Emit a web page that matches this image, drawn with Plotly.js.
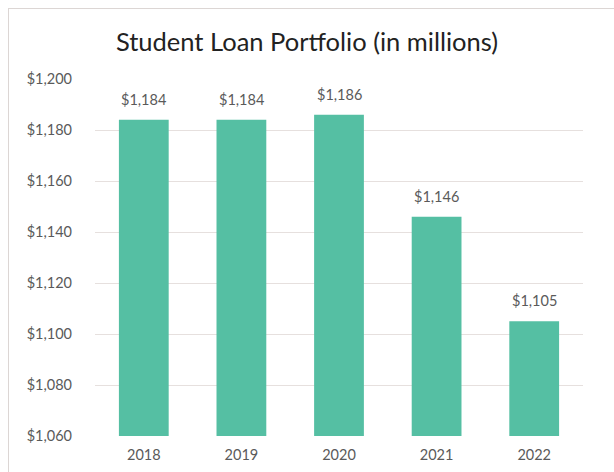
<!DOCTYPE html>
<html>
<head>
<meta charset="utf-8">
<script src="https://cdn.plot.ly/plotly-3.0.1.min.js"></script>
<style>
  html, body { margin: 0; padding: 0; background: #fff; }
  #wrap { position: relative; width: 614px; height: 472px; overflow: hidden; }
  #frame { position: absolute; left: 8px; top: 8px; width: 700px; height: 600px;
           border-left: 1px solid #dcd6d4; border-top: 1px solid #dcd6d4; }
  #chart { position: absolute; left: 0; top: 0; width: 614px; height: 472px; }
</style>
</head>
<body>
<div id="wrap">
  <div id="frame"></div>
  <div id="chart"></div>
</div>
<script>
const years = ['2018', '2019', '2020', '2021', '2022'];
const portfolio = [1184, 1184, 1186, 1146, 1105];
const yTicks = [1060, 1080, 1100, 1120, 1140, 1160, 1180, 1200];

const fmt = v => '$' + v.toLocaleString('en-US');
const labelFont = { family: 'Lato, sans-serif', size: 14.5, color: '#5a5a5a' };

const trace = {
  type: 'bar',
  x: years,
  y: portfolio,
  marker: { color: '#55BFA3' },
  hoverinfo: 'none'
};

// category axis: position annotations by category index
const annotations = years.map((yr, i) => ({
  x: i,
  y: portfolio[i],
  xref: 'x',
  yref: 'y',
  text: fmt(portfolio[i]),
  showarrow: false,
  yanchor: 'bottom',
  yshift: 10,
  font: labelFont
}));

const layout = {
  width: 614,
  height: 472,
  paper_bgcolor: 'rgba(0,0,0,0)',
  plot_bgcolor: 'rgba(0,0,0,0)',
  margin: { l: 95, r: 31, t: 79, b: 36 },
  bargap: 0.49,
  showlegend: false,
  annotations: annotations,
  title: {
    text: 'Student Loan Portfolio (in millions)',
    font: { family: 'Lato, sans-serif', size: 25.5, color: '#222222' },
    x: 0.5, xanchor: 'center',
    y: 0.91, yanchor: 'middle'
  },
  xaxis: {
    type: 'category',
    range: [-0.5, years.length - 0.5],
    showgrid: false,
    showline: false,
    ticks: '',
    ticklabelstandoff: 8,
    tickfont: labelFont
  },
  yaxis: {
    range: [1060, 1200],
    tickvals: yTicks,
    ticktext: yTicks.map(fmt),
    showgrid: true,
    gridcolor: '#e6e0de',
    gridwidth: 1,
    zeroline: false,
    showline: false,
    ticks: '',
    ticklabelstandoff: 22,
    tickfont: labelFont
  }
};

Plotly.newPlot('chart', [trace], layout, { displayModeBar: false, staticPlot: true });
</script>
</body>
</html>
